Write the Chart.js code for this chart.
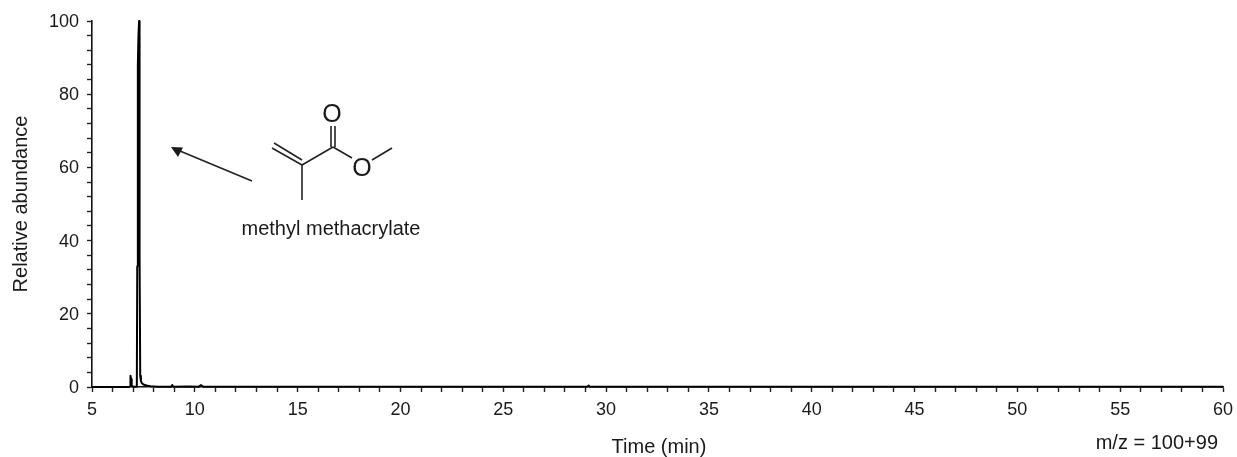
<!DOCTYPE html>
<html><head><meta charset="utf-8">
<style>html,body{margin:0;padding:0;background:#fff}canvas{display:block}</style>
<script src="https://cdn.jsdelivr.net/npm/chart.js@4"></script></head>
<body><canvas id="c" width="1237" height="457"></canvas>
<script>
const timeMin = [5,6.8,6.85,6.87,6.9,6.93,6.96,7.0,7.14,7.18,7.2,7.23,7.26,7.29,7.3,7.31,7.33,7.345,7.38,7.42,7.5,7.65,7.85,8.2,8.85,8.9,8.95,9.7,10.2,10.3,10.4,13,21,29.1,29.15,29.2,35,45,52,60];
const abundance = [0,0,0.2,3.1,2.2,0.5,0.2,0.1,0.1,0.3,33,88,96,100,96,88,36,3,1.6,1.1,0.7,0.4,0.2,0.1,0.1,0.5,0.1,0.15,0.1,0.5,0.1,0.1,0.1,0.1,0.4,0.1,0.1,0.1,0.1,0.1];
const yTitle = 'Relative abundance';
const xTitle = 'Time (min)';
const compoundName = 'methyl methacrylate';
const massLabel = 'm/z = 100+99';
const FONT = '"Liberation Sans", Arial, sans-serif';
const INK = '#1a1a1a';

const annotate = {
  id: 'annotate',
  afterDraw(chart) {
    const c = chart.ctx;
    c.save();
    c.fillStyle = INK; c.strokeStyle = '#222'; c.lineWidth = 1.6;
    c.textBaseline = 'alphabetic';
    c.font = '20px ' + FONT;
    c.textAlign = 'center';
    c.fillText(xTitle, 659, 453);
    c.fillText(compoundName, 331, 235);
    c.textAlign = 'right';
    c.fillText(massLabel, 1218, 449);
    const seg = (a, b, d, e) => { c.beginPath(); c.moveTo(a, b); c.lineTo(d, e); c.stroke(); };
    seg(252, 181, 180, 151);
    c.beginPath(); c.moveTo(171, 147); c.lineTo(183, 147.5); c.lineTo(178, 157); c.closePath(); c.fill();
    seg(302, 165, 333, 147);
    seg(302, 165, 272, 148);
    seg(302, 160, 274, 143);
    seg(302, 165, 302, 200);
    seg(331, 147, 331, 126);
    seg(335, 147, 335, 126);
    seg(333, 147, 352, 158);
    seg(372, 160, 392, 148);
    c.textAlign = 'center';
    c.font = '25px ' + FONT;
    c.fillText('O', 332, 122);
    c.fillText('O', 362, 176);
    c.restore();
  }
};

new Chart(document.getElementById('c'), {
  type: 'line',
  data: { datasets: [{ data: timeMin.map((t, i) => ({ x: t, y: abundance[i] })), borderColor: '#000', borderWidth: 2, borderJoinStyle: 'round', pointRadius: 0, tension: 0, clip: false }] },
  options: {
    responsive: false, animation: false, devicePixelRatio: 1,
    layout: { padding: { top: 21, right: 14, left: 0, bottom: 0 } },
    plugins: { legend: { display: false }, tooltip: { enabled: false } },
    scales: {
      x: {
        type: 'linear', min: 5, max: 60,
        afterFit(s) { s.height = 70; s.paddingLeft = 0; s.paddingRight = 0; },
        grid: { drawOnChartArea: false, drawTicks: true, tickLength: 5, tickColor: '#222', tickWidth: 1.4 },
        border: { color: '#111', width: 1.6 },
        ticks: { stepSize: 1, autoSkip: false, maxRotation: 0, padding: 7, color: INK, font: { family: FONT, size: 18 },
          callback: v => v % 5 === 0 ? String(v) : '' }
      },
      y: {
        min: 0, max: 100,
        afterFit(s) { s.width = 92; s.paddingTop = 0; s.paddingBottom = 0; },
        title: { display: true, text: yTitle, color: INK, font: { family: FONT, size: 20 }, padding: { top: 9, bottom: 0 } },
        grid: { drawOnChartArea: false, drawTicks: true, tickLength: 5, tickColor: '#222', tickWidth: 1.4 },
        border: { color: '#111', width: 1.6 },
        ticks: { stepSize: 4, autoSkip: false, padding: 8, labelOffset: 1, color: INK, font: { family: FONT, size: 18 },
          callback: v => v % 20 === 0 ? String(v) : '' }
      }
    }
  },
  plugins: [annotate]
});
</script></body></html>
